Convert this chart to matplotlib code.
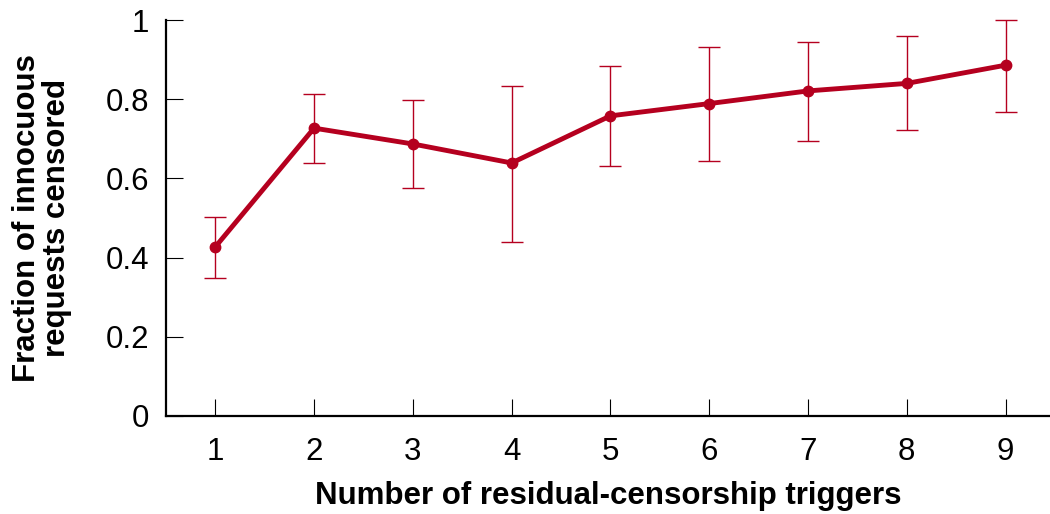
import numpy as np
import matplotlib.pyplot as plt

plt.rcParams['font.family'] = ['Liberation Sans', 'DejaVu Sans']

triggers = [1, 2, 3, 4, 5, 6, 7, 8, 9]
fraction = [0.427, 0.727, 0.687, 0.639, 0.758, 0.789, 0.821, 0.840, 0.886]
err_low = [0.348, 0.639, 0.576, 0.439, 0.631, 0.643, 0.695, 0.722, 0.767]
err_high = [0.503, 0.813, 0.798, 0.833, 0.884, 0.932, 0.945, 0.959, 1.0]

color = '#B5001F'

fig = plt.figure(figsize=(10.5, 5.14), dpi=100)
ax = fig.add_axes([0.158, 0.1907, 0.842, 0.7703])

y = np.array(fraction)
yerr = [y - np.array(err_low), np.array(err_high) - y]
ax.errorbar(triggers, y, yerr=yerr, fmt='none', ecolor=color, elinewidth=1,
            capsize=8, capthick=1, clip_on=False)
ax.plot(triggers, y, color=color, linewidth=3.5, marker='o', markersize=7.5,
        clip_on=False)

ax.set_xlim(0.5, 9.45)
ax.set_ylim(0, 1)
ax.set_xticks(triggers)
ax.set_yticks([0, 0.2, 0.4, 0.6, 0.8, 1.0])
ax.set_yticklabels(['0', '0.2', '0.4', '0.6', '0.8', '1'])

for s in ['top', 'right']:
    ax.spines[s].set_visible(False)
for s in ['left', 'bottom']:
    ax.spines[s].set_linewidth(1.6)

ax.tick_params(direction='in', length=12, width=0.8, labelsize=22.5)
ax.tick_params(axis='y', pad=12)
ax.tick_params(axis='x', pad=15)

ax.set_xlabel('Number of residual-censorship triggers', fontsize=22.5,
              fontweight='bold', labelpad=10)
ax.set_ylabel('Fraction of innocuous\nrequests censored', fontsize=22.5,
              fontweight='bold', linespacing=1.0, labelpad=24)

fig.savefig('out.png', dpi=100)
